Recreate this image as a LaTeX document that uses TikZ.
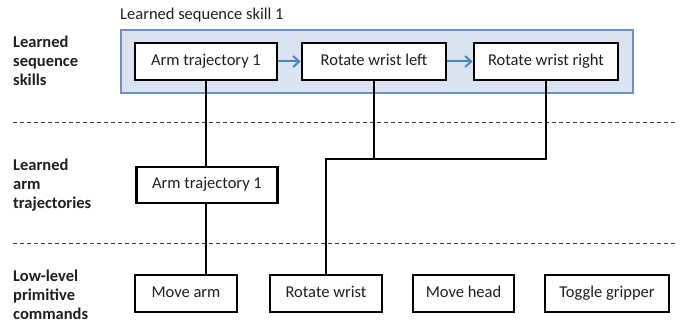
\documentclass[tikz,border=0pt]{standalone}
\usepackage{fontspec}
\setmainfont{Carlito}
\usetikzlibrary{arrows.meta}
\definecolor{seqfill}{HTML}{DAE3F1}
\definecolor{seqdraw}{HTML}{6F8FBF}
\definecolor{arrblue}{HTML}{4F81BD}
\begin{document}
\begin{tikzpicture}[x=1pt,y=-1pt,
  every node/.style={font=\fontsize{16.5}{19}\selectfont, text=black!88},
  box/.style={draw=black, line width=2.8pt, fill=white, minimum height=37pt, inner sep=0pt, text height=11.5pt, text depth=3.5pt},
  seqbox/.style={draw=seqdraw, line width=2.2pt, fill=seqfill, minimum width=512pt, minimum height=63pt, inner sep=0pt},
  conn/.style={draw=black, line width=2.8pt},
  flow/.style={draw=arrblue, line width=2pt, -{Straight Barb[length=6pt,width=11pt]}},
  sep/.style={draw=black!75, line width=1pt, dash pattern=on 4pt off 3pt},
  lvl/.style={font=\fontsize{16.5}{19}\selectfont\bfseries, align=left, anchor=west, inner sep=0pt}]
\useasboundingbox (0,0) rectangle (681,328);
% level labels
\node[lvl] (l1) at (13,61) {Learned\\sequence\\skills};
\node[lvl] (l2) at (13,185) {Learned\\arm\\trajectories};
\node[lvl] (l3) at (13,295) {Low-level\\primitive\\commands};
% separators
\coordinate (d1a) at (13,123); \coordinate (d1b) at (678,123);
\coordinate (d2a) at (13,244); \coordinate (d2b) at (678,244);
\draw[sep] (d1a) -- (d1b);
\draw[sep] (d2a) -- (d2b);
% sequence skill container
\node[seqbox] (seq) at (377,61.5) {};
\node[anchor=west, inner sep=0pt] (seqlbl) at (120,15) {Learned sequence skill 1};
% top boxes
\node[box, minimum width=142pt] (at1) at (206,61.5) {Arm trajectory 1};
\node[box, minimum width=144pt] (rwl) at (374,61.5) {Rotate wrist left};
\node[box, minimum width=144pt] (rwr) at (546,61.5) {Rotate wrist right};
% middle box
\node[box, minimum width=141pt, minimum height=36pt] (at2) at (207,185) {Arm trajectory 1};
% bottom boxes
\node[box, minimum width=102pt] (ma) at (186,293.5) {Move arm};
\node[box, minimum width=112pt] (rw) at (326,293.5) {Rotate wrist};
\node[box, minimum width=101pt] (mh) at (463.5,293.5) {Move head};
\node[box, minimum width=124pt] (tg) at (607,293.5) {Toggle gripper};
% sequence arrows
\draw[flow] (at1) -- (rwl);
\draw[flow] (rwl) -- (rwr);
% connectors
\coordinate (j) at (326,159);
\draw[conn] (at1.south) -- (at1.south |- at2.north);
\draw[conn] (at1.south |- at2.south) -- (at1.south |- ma.north);
\draw[conn] (rwl.south) -- (rwl.south |- j);
\draw[conn] (rwr.south) -- (rwr.south |- j) -- (j) -- (rw.north);
\end{tikzpicture}
\end{document}
